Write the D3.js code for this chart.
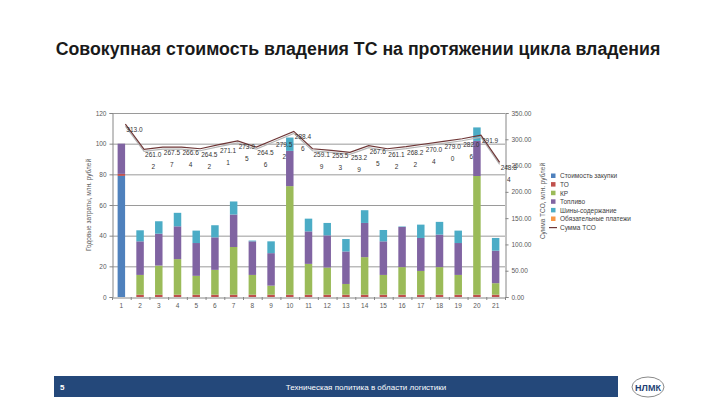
<!DOCTYPE html>
<html>
<head>
<meta charset="utf-8">
<script src="https://cdn.jsdelivr.net/npm/d3@7"></script>
<style>
  body { margin: 0; background: #fff; }
  svg { display: block; font-family: "Liberation Sans", Arial, sans-serif; }
</style>
</head>
<body>
<svg id="chart" width="720" height="405"></svg>
<script>
// categories (год цикла владения)
var years = d3.range(1, 22);

// stacked series, млн. рублей (left axis)
var purchase  = [79, 0, 0, 0, 0, 0, 0, 0, 0, 0, 0, 0, 0, 0, 0, 0, 0, 0, 0, 0, 0];
var service   = [1.3, 1.5, 1.5, 1.5, 1.5, 1.5, 1.5, 1.5, 1.5, 1.5, 1.5, 1.5, 1.5, 1.5, 1.5, 1.5, 1.5, 1.5, 1.5, 1.5, 1.5];
var repair    = [0, 12.9, 19, 23.2, 12.3, 16.2, 31.1, 12.9, 5.9, 70.8, 20.1, 17.7, 7, 24.5, 12.9, 18, 15.5, 18, 12.9, 77.4, 7.5];
var fuel      = [19.7, 21.9, 20.8, 21.4, 21.4, 21.2, 21.2, 21.9, 21.2, 23, 21.2, 21, 21.2, 22.3, 21.9, 26.2, 21.5, 21.2, 20.8, 22.9, 21.2];
var tires     = [0, 7.2, 8.1, 8.8, 8.1, 7.9, 8.5, 0.5, 7.7, 8.7, 8.3, 8.1, 8.1, 8.3, 7.4, 0.3, 8.7, 8.3, 8.1, 8.8, 8.3];
var mandatory = [0, 0, 0, 0, 0, 0, 0, 0, 0, 0, 0, 0, 0, 0, 0, 0, 0, 0, 0, 0, 0];

// Сумма ТСО line (right axis), as drawn
var tcoSum = [329, 281, 285, 285, 282, 290, 297, 285, 300, 315, 282, 279, 275, 288, 282, 286, 291, 296, 301, 308, 256];
// data labels as printed (wrapped onto two lines)
var tcoLabels = [["313.0"], ["261.0", "2"], ["267.5", "7"], ["266.6", "4"], ["264.5", "2"], ["271.1", "1"],
  ["273.9", "5"], ["264.5", "6"], ["279.5", "2"], ["288.4", "6"], ["259.1", "9"], ["255.5", "3"],
  ["253.2", "9"], ["267.6", "5"], ["261.1", "2"], ["268.2", "2"], ["270.0", "4"], ["279.0", "0"],
  ["282.0", "6"], ["291.9"], ["248.8", "4"]];

var seriesNames = ["Стоимость закупки", "ТО", "КР", "Топливо", "Шины-содержание", "Обязательные платежи"];
var seriesColors = ["#4f81bd", "#c0504d", "#9bbb59", "#8064a2", "#4bacc6", "#f79646"];
var leftTicks = [0, 20, 40, 60, 80, 100, 120];
var rightTicks = [0, 50, 100, 150, 200, 250, 300, 350];

var svg = d3.select("#chart");
var plotL = 112, plotR = 505, plotT = 113, plotB = 297;

var x = d3.scaleBand().domain(years).range([plotL, plotR]).paddingInner(0.6).paddingOuter(0.3);
var y = d3.scaleLinear().domain([0, 120]).range([plotB, plotT]);
var y2 = d3.scaleLinear().domain([0, 350]).range([plotB, plotT]);

// title
var title = svg.append("text")
  .attr("x", 358).attr("y", 55)
  .attr("text-anchor", "middle")
  .attr("font-weight", "bold")
  .attr("font-size", 15)
  .attr("fill", "#1a1a1a")
  .text("Совокупная стоимость владения ТС на протяжении цикла владения");
var tw = title.node().getComputedTextLength();
title.attr("font-size", 15 * 605 / tw);

// gridlines
svg.append("g").selectAll("line").data(leftTicks.slice(1)).join("line")
  .attr("x1", plotL).attr("x2", plotR)
  .attr("y1", function(d) { return y(d) + 0.5; }).attr("y2", function(d) { return y(d) + 0.5; })
  .attr("stroke", "#9a9a9a").attr("stroke-width", 1);

// stacked bars
var rows = years.map(function(yr, i) {
  return { year: yr, s0: purchase[i], s1: service[i], s2: repair[i], s3: fuel[i], s4: tires[i], s5: mandatory[i] };
});
var keys = ["s0", "s1", "s2", "s3", "s4", "s5"];
var stacked = d3.stack().keys(keys)(rows);

svg.append("g").selectAll("g").data(stacked).join("g")
  .attr("fill", function(d, i) { return seriesColors[i]; })
  .selectAll("rect").data(function(d) { return d; }).join("rect")
  .attr("x", function(d) { return x(d.data.year); })
  .attr("width", x.bandwidth())
  .attr("y", function(d) { return y(d[1]); })
  .attr("height", function(d) { return Math.max(0, y(d[0]) - y(d[1])); });

// axes
var axisColor = "#868686", textColor = "#595959";
var gl = svg.append("g").attr("transform", "translate(" + (plotL + 0.5) + ",0)")
  .call(d3.axisLeft(y).tickValues(leftTicks).tickSize(3).tickPadding(3));
var gr = svg.append("g").attr("transform", "translate(" + (plotR + 0.5) + ",0)")
  .call(d3.axisRight(y2).tickValues(rightTicks).tickSize(3).tickPadding(3).tickFormat(d3.format(".2f")));
var gx = svg.append("g").attr("transform", "translate(0," + (plotB + 0.5) + ")")
  .call(d3.axisBottom(x).tickSize(0).tickPadding(6));
// category boundary ticks
svg.append("g").selectAll("line").data(d3.range(0, 22)).join("line")
  .attr("x1", function(i) { return plotL + i * x.step() + 0.5; })
  .attr("x2", function(i) { return plotL + i * x.step() + 0.5; })
  .attr("y1", plotB).attr("y2", plotB + 3)
  .attr("stroke", axisColor);

[gl, gr, gx].forEach(function(g) {
  g.select(".domain").attr("stroke", axisColor);
  g.selectAll(".tick line").attr("stroke", axisColor);
  g.selectAll(".tick text").attr("fill", textColor).attr("font-size", 6.5)
    .attr("font-family", "'Liberation Sans', Arial, sans-serif");
});

// axis titles
svg.append("text")
  .attr("transform", "translate(91,205) rotate(-90)")
  .attr("text-anchor", "middle").attr("font-size", 6.5).attr("fill", textColor)
  .text("Годовые затраты, млн. рублей");
svg.append("text")
  .attr("transform", "translate(545,201) rotate(-90)")
  .attr("text-anchor", "middle").attr("font-size", 6.5).attr("fill", textColor)
  .text("Сумма ТСО, млн. рублей");

// TCO line
var lineOffset = 4;
var line = d3.line()
  .x(function(d, i) { return x(years[i]) + x.bandwidth() / 2 + lineOffset; })
  .y(function(d) { return y2(d); });
svg.append("path").datum(tcoSum)
  .attr("d", line).attr("transform", "translate(0,2)")
  .attr("fill", "none").attr("stroke", "#b5b5b5").attr("stroke-width", 1.2);
svg.append("path").datum(tcoSum)
  .attr("d", line)
  .attr("fill", "none").attr("stroke", "#6e3636").attr("stroke-width", 1.2);

// labels
var lab = svg.append("g").attr("font-size", 6.5).attr("fill", "#333");
tcoSum.forEach(function(v, i) {
  var px = x(years[i]) + x.bandwidth() / 2 + lineOffset + 1;
  var py = y2(v) + 8;
  var t = lab.append("text").attr("x", px).attr("y", py).text(tcoLabels[i][0]);
  var w = t.node().getComputedTextLength();
  if (tcoLabels[i][1]) {
    lab.append("text").attr("x", px + w / 2).attr("y", py + 12)
      .attr("text-anchor", "middle").text(tcoLabels[i][1]);
  }
});

// legend
var legend = svg.append("g").attr("font-size", 6.5).attr("fill", "#404040");
var legendItems = seriesNames.concat(["Сумма ТСО"]);
legendItems.forEach(function(name, i) {
  var ly = 176 + i * 8.6;
  if (i < seriesNames.length) {
    legend.append("rect").attr("x", 551).attr("y", ly - 2.5).attr("width", 4.5).attr("height", 4.5)
      .attr("fill", seriesColors[i]);
  } else {
    legend.append("line").attr("x1", 549).attr("x2", 557).attr("y1", ly).attr("y2", ly)
      .attr("stroke", "#6e3636").attr("stroke-width", 1.2);
  }
  legend.append("text").attr("x", 560).attr("y", ly + 2.3).text(name);
});

// footer
svg.append("rect").attr("x", 54).attr("y", 376).attr("width", 564).attr("height", 21).attr("fill", "#24487a");
svg.append("text").attr("x", 60).attr("y", 390).attr("fill", "#fff").attr("font-size", 8)
  .attr("font-weight", "bold").text("5");
svg.append("text").attr("x", 366).attr("y", 390).attr("fill", "#fff").attr("font-size", 8)
  .attr("text-anchor", "middle").text("Техническая политика в области логистики");
svg.append("ellipse").attr("cx", 648).attr("cy", 387).attr("rx", 16).attr("ry", 10)
  .attr("fill", "#fff").attr("stroke", "#8a8a8a").attr("stroke-width", 1);
svg.append("text").attr("x", 648).attr("y", 390.5).attr("text-anchor", "middle")
  .attr("font-size", 9).attr("font-weight", "bold").attr("fill", "#1f3f75").text("НЛМК");
</script>
</body>
</html>
